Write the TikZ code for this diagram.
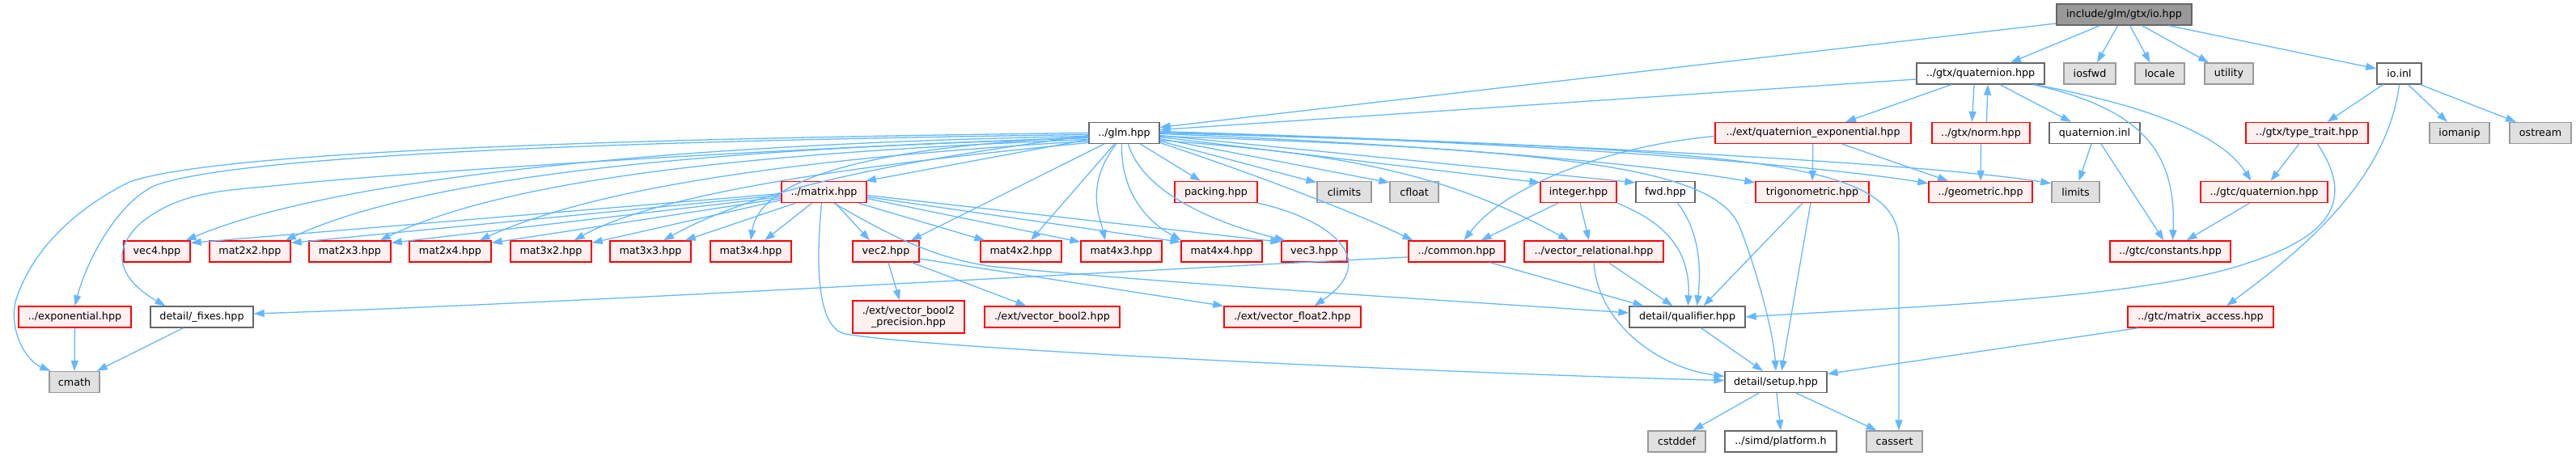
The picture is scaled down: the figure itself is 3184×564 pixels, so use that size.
\documentclass[tikz,border=0pt]{standalone}
\usepackage{fontspec}
\newfontfamily\dvs{DejaVu Sans}
\usetikzlibrary{arrows.meta}
\definecolor{edgec}{HTML}{63B8FF}
\definecolor{rootfill}{HTML}{999999}
\definecolor{rootdraw}{HTML}{666666}
\definecolor{graydraw}{HTML}{666666}
\definecolor{redfill}{HTML}{FFF0F0}
\definecolor{reddraw}{HTML}{FF0000}
\definecolor{sysfill}{HTML}{E0E0E0}
\definecolor{sysdraw}{HTML}{999999}
\begin{document}
\begin{tikzpicture}[x=1pt,y=-1pt,
  box/.style={draw, line width=1.3pt, inner sep=0pt, minimum height=26pt, font=\dvs\fontsize{12.7}{14.5}\selectfont, text=black},
  rootn/.style={box, fill=rootfill, draw=rootdraw},
  wn/.style={box, fill=white, draw=graydraw},
  rn/.style={box, fill=redfill, draw=reddraw},
  gn/.style={box, fill=sysfill, draw=sysdraw},
  edg/.style={draw=edgec, line width=1.3pt, -{Triangle[length=13pt,width=9pt]}}]
\path[use as bounding box] (0,0) rectangle (3184,564);
% row 0
\node[rootn, minimum width=167pt] (io) at (2625.5,18) {include/glm/gtx/io.hpp};
% row 1
\node[wn, minimum width=158pt] (gquat) at (2448,91) {../gtx/quaternion.hpp};
\node[gn, minimum width=64pt] (iosfwd) at (2583,91) {iosfwd};
\node[gn, minimum width=61pt] (locale) at (2669.5,91) {locale};
\node[gn, minimum width=60pt] (utility) at (2755,91) {utility};
\node[wn, minimum width=55pt] (ioinl) at (2965.5,91) {io.inl};
% row 2
\node[wn, minimum width=87pt] (glm) at (1389.5,164.5) {../glm.hpp};
\node[rn, minimum width=242pt] (qexp) at (2241,164.5) {../ext/quaternion\_exponential.hpp};
\node[rn, minimum width=121pt] (norm) at (2448.5,164.5) {../gtx/norm.hpp};
\node[wn, minimum width=112pt] (qinl) at (2589,164.5) {quaternion.inl};
\node[rn, minimum width=151pt] (ttrait) at (2851.5,164.5) {../gtx/type\_trait.hpp};
\node[gn, minimum width=74pt] (iomanip) at (3040,164.5) {iomanip};
\node[gn, minimum width=76pt] (ostream) at (3140,164.5) {ostream};
% row 3
\node[rn, minimum width=105pt] (matrix) at (1018.5,237.5) {../matrix.hpp};
\node[rn, minimum width=102pt] (packing) at (1503,237.5) {packing.hpp};
\node[gn, minimum width=67pt] (climits) at (1661.5,237.5) {climits};
\node[gn, minimum width=60pt] (cfloat) at (1748,237.5) {cfloat};
\node[rn, minimum width=94pt] (integer) at (1951,237.5) {integer.hpp};
\node[wn, minimum width=73pt] (fwd) at (2058.5,237.5) {fwd.hpp};
\node[rn, minimum width=140pt] (trig) at (2240,237.5) {trigonometric.hpp};
\node[rn, minimum width=128pt] (geom) at (2448,237.5) {../geometric.hpp};
\node[gn, minimum width=59pt] (limits) at (2565.5,237.5) {limits};
\node[rn, minimum width=157pt] (gtcquat) at (2798.5,237.5) {../gtc/quaternion.hpp};
% row 4
\node[rn, minimum width=82pt] (vec4) at (194,311) {vec4.hpp};
\node[rn, minimum width=100pt] (m22) at (309,311) {mat2x2.hpp};
\node[rn, minimum width=101pt] (m23) at (432.5,311) {mat2x3.hpp};
\node[rn, minimum width=101pt] (m24) at (556.5,311) {mat2x4.hpp};
\node[rn, minimum width=100pt] (m32) at (681,311) {mat3x2.hpp};
\node[rn, minimum width=100pt] (m33) at (804,311) {mat3x3.hpp};
\node[rn, minimum width=100pt] (m34) at (928,311) {mat3x4.hpp};
\node[rn, minimum width=82pt] (vec2) at (1095,311) {vec2.hpp};
\node[rn, minimum width=100pt] (m42) at (1262,311) {mat4x2.hpp};
\node[rn, minimum width=100pt] (m43) at (1386,311) {mat4x3.hpp};
\node[rn, minimum width=100pt] (m44) at (1510,311) {mat4x4.hpp};
\node[rn, minimum width=81pt] (vec3) at (1624.5,311) {vec3.hpp};
\node[rn, minimum width=119pt] (common) at (1800.5,311) {../common.hpp};
\node[rn, minimum width=172pt] (vrel) at (1970,311) {../vector\_relational.hpp};
\node[rn, minimum width=149pt] (consts) at (2682.5,311) {../gtc/constants.hpp};
% row 5
\node[rn, minimum width=139pt] (expo) at (92.5,392) {../exponential.hpp};
\node[wn, minimum width=127pt] (fixes) at (249.5,392) {detail/\_fixes.hpp};
\node[rn, minimum width=138pt, minimum height=40pt, align=center] (b2p) at (1123,392) {./ext/vector\_bool2\\\_precision.hpp};
\node[rn, minimum width=167pt] (b2) at (1300.5,392) {./ext/vector\_bool2.hpp};
\node[rn, minimum width=169pt] (f2) at (1597.5,392) {./ext/vector\_float2.hpp};
\node[wn, minimum width=143pt] (qual) at (2085.5,392) {detail/qualifier.hpp};
\node[rn, minimum width=180pt] (macc) at (2720,392) {../gtc/matrix\_access.hpp};
% row 6
\node[gn, minimum width=62pt] (cmath) at (92,472.5) {cmath};
\node[wn, minimum width=126pt] (setup) at (2195,472.5) {detail/setup.hpp};
% row 7
\node[gn, minimum width=71pt] (cstddef) at (2072.5,546) {cstddef};
\node[wn, minimum width=138pt] (platform) at (2201,546) {../simd/platform.h};
\node[gn, minimum width=69pt] (cassert) at (2341.5,546) {cassert};

% ---- edges from io.hpp
\draw[edg] ([xshift=-30]io.south) -- ([xshift=37]gquat.north);
\draw[edg] ([xshift=-8]io.south) -- ([xshift=9]iosfwd.north);
\draw[edg] ([xshift=7]io.south) -- ([xshift=-12]locale.north);
\draw[edg] ([xshift=22]io.south) -- ([xshift=-25]utility.north);
\draw[edg] ([xshift=55]io.south) -- ([yshift=6]ioinl.west);
\draw[edg] ([yshift=-11]io.west) -- ([yshift=7]glm.east);
% ---- gtx/quaternion
\draw[edg] ([yshift=-7]gquat.west) -- ([yshift=4]glm.east);
\draw[edg] ([xshift=-36]gquat.south) -- ([xshift=40]qexp.north);
\draw[edg] ([xshift=-8]gquat.south) -- ([xshift=-11]norm.north);
\draw[edg] ([xshift=7]norm.north) -- ([xshift=9]gquat.south);
\draw[edg] ([xshift=24]gquat.south) -- ([xshift=-29]qinl.north);
\draw[edg] ([xshift=65]gquat.south) .. controls (2650,135) and (2690,190) .. ([xshift=3]consts.north);
\draw[edg] ([xshift=67]gquat.south) .. controls (2650,130) and (2745,165) .. ([xshift=-16]gtcquat.north);
\draw[edg] (norm) -- (geom);
\draw[edg] ([xshift=-4]qinl.south) -- ([xshift=4]limits.north);
\draw[edg] ([xshift=8]qinl.south) -- ([xshift=-8]consts.north);
% ---- io.inl
\draw[edg] ([xshift=-20]ioinl.south) -- ([xshift=25]ttrait.north);
\draw[edg] ([xshift=11]ioinl.south) -- ([xshift=-15]iomanip.north);
\draw[edg] ([xshift=26]ioinl.south) -- ([xshift=-30]ostream.north);
\draw[edg] (ioinl.south) .. controls (2950,230) and (2830,320) .. ([xshift=32]macc.north);
% ---- type_trait, gtc/quaternion, matrix_access
\draw[edg] ([xshift=-10]ttrait.south) -- ([xshift=8]gtcquat.north);
\draw[edg] ([xshift=13]ttrait.south) .. controls (2920,260) and (2860,300) .. (2770,328) .. controls (2640,370) and (2350,380) .. (qual.east);
\draw[edg] ([xshift=-18]gtcquat.south) -- ([xshift=20]consts.north);
\draw[edg] ([xshift=-77]macc.south) -- ([yshift=10]setup.east);
% ---- quaternion_exponential
\draw[edg] ([yshift=-4]qexp.west) .. controls (1990,180) and (1860,230) .. ([xshift=9]common.north);
\draw[edg] (qexp) -- (trig);
\draw[edg] ([xshift=36]qexp.south) -- ([xshift=-40]geom.north);
% ---- glm.hpp, left side
\draw[edg] (glm.west) .. controls (700,172) and (260,190) .. (160,225) .. controls (90,260) and (40,310) .. (20,370) .. controls (10,405) and (30,445) .. ([xshift=2]cmath.north west);
\draw[edg] ([yshift=-2]glm.west) .. controls (700,175) and (280,195) .. (190,230) .. controls (140,255) and (105,330) .. (expo.north);
\draw[edg] ([yshift=-6]glm.west) .. controls (900,185) and (450,218) .. (357,228) .. controls (280,236) and (225,235) .. (175,275) .. controls (130,315) and (155,350) .. ([xshift=-45]fixes.north);
\draw[edg] ([yshift=-4]glm.west) .. controls (800,178) and (400,225) .. ([xshift=-6]vec4.north east);
\draw[edg] ([yshift=-6]glm.west) .. controls (850,185) and (520,220) .. ([xshift=-7]m22.north east);
\draw[edg] ([yshift=-8]glm.west) .. controls (900,190) and (620,225) .. ([xshift=-14]m23.north east);
\draw[edg] ([yshift=-10]glm.west) .. controls (1000,195) and (740,230) .. ([xshift=-15]m24.north east);
\draw[edg] ([yshift=-12]glm.west) .. controls (1100,200) and (820,235) .. ([xshift=-22]m32.north east);
\draw[edg] ([yshift=-3]glm.west) .. controls (1150,195) and (950,225) .. ([xshift=16]m33.north);
\draw[edg] ([yshift=-5]glm.west) .. controls (1100,180) and (940,215) .. (m34.north);
\draw[edg] ([yshift=-8]glm.west) -- ([xshift=-2]matrix.north east);
% ---- glm.hpp, below
\draw[edg] ([xshift=20]glm.south) -- ([xshift=-19]packing.north);
\draw[edg] ([xshift=-25]glm.south) -- ([xshift=31]vec2.north);
\draw[edg] ([xshift=-12]glm.south) -- ([xshift=12]m42.north);
\draw[edg] ([xshift=-10]glm.south) .. controls (1340,230) and (1360,270) .. ([xshift=-20]m43.north);
\draw[edg] ([xshift=-3]glm.south) .. controls (1385,240) and (1420,275) .. ([xshift=-50]m44.north);
\draw[edg] ([xshift=5]glm.south) .. controls (1410,230) and (1480,270) .. ([xshift=-36]vec3.north);
% ---- glm.hpp, right side
\draw[edg] ([yshift=-10]glm.east) -- ([yshift=-2]climits.north west);
\draw[edg] ([yshift=-7]glm.east) -- ([yshift=-2]cfloat.north west);
\draw[edg] ([yshift=-5]glm.east) -- ([yshift=-2]integer.north west);
\draw[edg] ([yshift=-3]glm.east) -- ([yshift=-2]fwd.north west);
\draw[edg] ([yshift=-1]glm.east) .. controls (1800,180) and (2050,205) .. ([yshift=-2]trig.north west);
\draw[edg] ([yshift=1]glm.east) .. controls (1900,175) and (2250,205) .. ([yshift=-3]geom.north west);
\draw[edg] ([yshift=2]glm.east) .. controls (2000,180) and (2400,205) .. ([yshift=-3]limits.north west);
\draw[edg] ([yshift=-12]glm.east) .. controls (1550,215) and (1680,265) .. ([xshift=6]common.north west);
\draw[edg] ([yshift=-9]glm.east) .. controls (1650,190) and (1780,210) .. ([xshift=-31]vrel.north);
\draw[edg] ([yshift=-4]glm.east) .. controls (1950,185) and (2120,210) .. (2150,280) .. controls (2170,330) and (2192,410) .. (setup.north);
\draw[edg] (glm.east) .. controls (2150,185) and (2347,195) .. (2347,300) -- ([xshift=5.5]cassert.north);
% ---- matrix.hpp
\draw[edg] ([yshift=-2]matrix.west) -- ([yshift=-3]vec4.north east);
\draw[edg] ([yshift=-4]matrix.west) -- ([yshift=-3]m22.north east);
\draw[edg] ([yshift=-6]matrix.west) -- ([yshift=-3]m23.north east);
\draw[edg] ([yshift=-8]matrix.west) -- ([yshift=-3]m24.north east);
\draw[edg] ([yshift=-10]matrix.west) -- ([yshift=-3]m32.north east);
\draw[edg] ([xshift=-35]matrix.south) -- ([xshift=-8]m33.north east);
\draw[edg] ([xshift=-15]matrix.south) -- ([xshift=17]m34.north);
\draw[edg] ([xshift=14]matrix.south) -- ([xshift=-20]vec2.north);
\draw[edg] ([xshift=42]matrix.south) -- ([xshift=6]m42.north west);
\draw[edg] ([yshift=-8]matrix.east) -- ([yshift=-2]m43.north west);
\draw[edg] ([yshift=-6]matrix.east) -- ([yshift=-2]m44.north west);
\draw[edg] ([yshift=-4]matrix.east) -- ([yshift=-2]vec3.north west);
\draw[edg] ([xshift=12]matrix.south) .. controls (1090,285) and (1150,320) .. (1230,330) .. controls (1500,355) and (1800,372) .. ([yshift=5]qual.west);
\draw[edg] ([xshift=-3]matrix.south) .. controls (1008,330) and (1010,406) .. (1045,413) .. controls (1150,432) and (1800,462) .. ([yshift=2]setup.west);
% ---- vec2, packing
\draw[edg] ([xshift=3]vec2.south) -- ([xshift=-11]b2p.north);
\draw[edg] ([xshift=32]vec2.south) -- ([xshift=-32]b2.north);
\draw[edg] ([yshift=-9]vec2.east) -- (f2.north west);
\draw[edg] (packing.south east) .. controls (1640,270) and (1710,320) .. ([xshift=27]f2.north);
% ---- integer, fwd, trig, common, vector_relational
\draw[edg] ([xshift=-25]integer.south) -- ([xshift=30]common.north);
\draw[edg] ([xshift=2]integer.south) -- ([xshift=-6]vrel.north);
\draw[edg] (integer.south east) .. controls (2045,270) and (2090,300) .. ([xshift=1]qual.north);
\draw[edg] ([xshift=15]fwd.south) .. controls (2100,285) and (2103,330) .. ([xshift=12]qual.north);
\draw[edg] ([xshift=-12]trig.south) -- ([xshift=20]qual.north);
\draw[edg] ([xshift=-2]trig.south) -- ([xshift=7]setup.north);
\draw[edg] ([xshift=41]common.south) -- ([xshift=-54]qual.north);
\draw[edg] ([yshift=-7]common.west) .. controls (1200,345) and (700,375) .. ([yshift=4]fixes.east);
\draw[edg] ([xshift=18]vrel.south) -- ([xshift=-18]qual.north);
\draw[edg] (vrel.south) .. controls (1975,400) and (2050,455) .. ([yshift=7]setup.west);
% ---- qualifier, setup
\draw[edg] ([xshift=17]qual.south) -- ([xshift=-16]setup.north);
\draw[edg] ([xshift=-21]setup.south) -- ([xshift=20]cstddef.north);
\draw[edg] ([xshift=1]setup.south) -- (platform.north);
\draw[edg] ([xshift=25]setup.south) -- ([xshift=-22]cassert.north);
% ---- exponential, _fixes
\draw[edg] (expo) -- (cmath);
\draw[edg] ([xshift=-23]fixes.south) -- ([xshift=-4]cmath.north east);
\end{tikzpicture}
\end{document}
